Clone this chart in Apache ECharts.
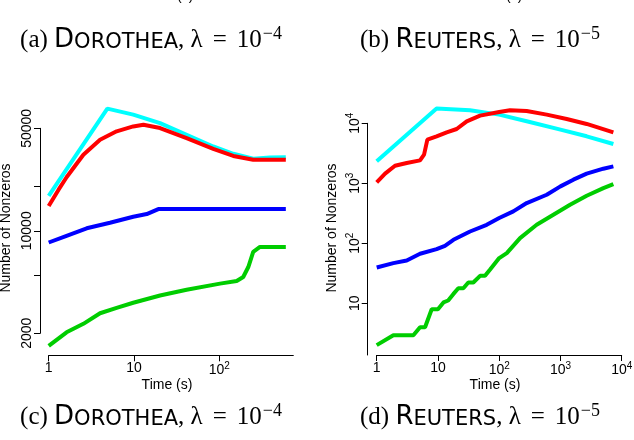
<!DOCTYPE html>
<html>
<head>
<meta charset="utf-8">
<script src="https://cdn.jsdelivr.net/npm/echarts@6/dist/echarts.min.js"></script>
<style>
  html, body { margin: 0; padding: 0; background: #fff; }
  #main { width: 634px; height: 440px; }
</style>
</head>
<body>
<div id="main"></div>
<script>
// Dorothea (left), lambda = 1e-4
const dorCyanT = [1, 4.87, 9.8, 20.2, 41.4, 85, 146, 250, 392, 603];
const dorCyan = [17300, 68100, 62000, 54300, 45200, 37600, 33500, 31000, 31600, 31800];
const dorRedT = [1, 1.3, 1.62, 2.55, 4.0, 6.26, 9.8, 12.9, 20.2, 41.4, 85, 146, 250, 603];
const dorRed = [14760, 19000, 23200, 33000, 41800, 47700, 51500, 52900, 50200, 42800, 36200, 32400, 30500, 30500];
const dorBlueT = [1, 1.62, 2.79, 5.23, 9.8, 14.1, 19.3, 603];
const dorBlue = [8320, 9250, 10400, 11350, 12470, 13000, 14070, 14070];
const dorGreenT = [1, 1.62, 2.55, 4.0, 6.26, 9.8, 20.2, 41.4, 102, 160, 191, 219, 250, 300, 603];
const dorGreen = [1640, 2030, 2320, 2740, 2980, 3230, 3620, 3960, 4360, 4540, 4840, 5660, 7180, 7760, 7760];

// Reuters (right), lambda = 1e-5
const rtrCyanT = [1, 9.5, 33.4, 100, 281, 1000, 2680, 7310];
const rtrCyan = [2320, 17600, 16500, 13960, 10800, 7830, 6070, 4520];
const rtrRedT = [1, 1.37, 1.99, 3.09, 5.1, 5.93, 6.72, 9.5, 13.9, 20.2, 29.5, 48.7, 100, 150, 281, 597, 1265, 2680, 7310];
const rtrRed = [1035, 1445, 1960, 2180, 2410, 3000, 5340, 6060, 7080, 8040, 10800, 13430, 15450, 16500, 16070, 13960, 11800, 9750, 7080];
const rtrBlueT = [1, 1.87, 3.09, 5.1, 9.5, 13, 17.9, 33.4, 62.5, 100, 170, 281, 597, 1000, 1625, 2680, 5020, 7310];
const rtrBlue = [39.4, 46.6, 51.6, 66.7, 79.8, 90.7, 114, 157, 203, 263, 340, 468, 644, 888, 1148, 1445, 1750, 1915];
const rtrGreenT = [1, 1.87, 3.97, 5.1, 6.16, 7.9, 10, 12.3, 14.7, 17.9, 21.5, 26, 31.3, 37.8, 48.7, 58.7, 70.5, 100, 133, 219, 409, 766, 1435, 2680, 5020, 7310];
const rtrGreen = [2, 2.92, 2.92, 3.98, 3.98, 7.94, 7.94, 10.3, 11.1, 14.3, 17.8, 17.8, 22.2, 22.2, 28.6, 28.6, 36.1, 56.5, 68.4, 122, 203, 298, 438, 620, 832, 970];

// tick values
const dorXTicks = [1, 10, 100];
const dorYTicks = [2000, 5000, 10000, 20000, 50000];
const dorYLabels = [2000, 10000, 50000];
const rtrXTicks = [1, 10, 100, 1000, 10000];
const rtrYTicks = [10, 100, 1000, 10000];

const colors = { cyan: "#00ffff", red: "#ff0000", blue: "#0000ff", green: "#00cd00" };

let dom = document.getElementById("main");
let myChart = echarts.init(dom, null, { renderer: "canvas" });

function pairs(t, n) {
    return t.map((v, i) => [v, n[i]]);
}

// 1, 10, 10^2 ...
function powLabel(v) {
    let e = Math.round(Math.log10(v));
    if (e <= 1) return "{b|" + Math.round(v) + "}";
    return "{b|10}{s|" + e + "}";
}

const tickRich = {
    b: { fontSize: 14, fontFamily: "Liberation Sans", color: "#000", verticalAlign: "bottom" },
    s: { fontSize: 10, fontFamily: "Liberation Sans", color: "#000", verticalAlign: "bottom", padding: [0, 0, 6, 0] },
};

const axisLine = { show: true, lineStyle: { color: "#000", width: 1 } };

function lineSeries(x, y, t, n, color) {
    return {
        type: "line",
        xAxisIndex: x,
        yAxisIndex: y,
        data: pairs(t, n),
        showSymbol: false,
        clip: false,
        lineStyle: { color: color, width: 4 },
        itemStyle: { color: color },
        silent: true,
    };
}

const capRich = {
    p: { fontFamily: "Liberation Serif", fontSize: 25, color: "#000", verticalAlign: "bottom" },
    eq: { fontFamily: "Liberation Serif", fontSize: 25, color: "#000", verticalAlign: "bottom", padding: [0, 10, 0, 10] },
    d: { fontFamily: "DejaVu Sans", fontSize: 26, color: "#000", verticalAlign: "bottom" },
    sc: { fontFamily: "DejaVu Sans", fontSize: 21, color: "#000", verticalAlign: "bottom" },
    sup: { fontFamily: "Liberation Serif", fontSize: 18, color: "#000", verticalAlign: "bottom", padding: [0, 0, 10, 1] },
};

function caption(x, y, text) {
    return {
        type: "text",
        x: x,
        y: y,
        style: { text: text, rich: capRich, align: "center", verticalAlign: "middle" },
    };
}

function plainText(x, y, text, rotate) {
    return {
        type: "text",
        x: x,
        y: y,
        rotation: rotate ? Math.PI / 2 : 0,
        style: {
            text: text,
            fontFamily: "Liberation Sans",
            fontSize: 14,
            fill: "#000",
            align: "center",
            verticalAlign: "middle",
        },
    };
}

let option = {
    animation: false,
    backgroundColor: "#fff",
    grid: [
        { left: 48.7, right: 634 - 293.3, top: 128.3, bottom: 440 - 333.3, outerBoundsMode: "none" },
        { left: 376.7, right: 634 - 621.7, top: 123.3, bottom: 440 - 355, outerBoundsMode: "none" },
    ],
    xAxis: [
        {
            type: "log", gridIndex: 0, min: 1, max: 738, offset: 22,
            axisLine: axisLine,
            axisTick: { show: true, length: 6, lineStyle: { color: "#000" }, customValues: dorXTicks },
            axisLabel: { customValues: dorXTicks, formatter: powLabel, rich: tickRich, margin: 6 },
            splitLine: { show: false }, minorTick: { show: false },
        },
        {
            type: "log", gridIndex: 1, min: 1, max: 10000, offset: 0,
            axisLine: axisLine,
            axisTick: { show: true, length: 6, lineStyle: { color: "#000" }, customValues: rtrXTicks },
            axisLabel: { customValues: rtrXTicks, formatter: powLabel, rich: tickRich, margin: 6 },
            splitLine: { show: false }, minorTick: { show: false },
        },
    ],
    yAxis: [
        {
            type: "log", gridIndex: 0, min: 1999, max: 50010, offset: 8.7,
            axisLine: axisLine,
            axisTick: { show: true, length: 6, lineStyle: { color: "#000" }, customValues: dorYTicks },
            axisLabel: {
                customValues: dorYLabels, rotate: 90, margin: 6,
                formatter: (v) => "{b|" + Math.round(v) + "}", rich: tickRich,
            },
            splitLine: { show: false }, minorTick: { show: false },
        },
        {
            type: "log", gridIndex: 1, min: 1.37, max: 10000, offset: 9,
            axisLine: axisLine,
            axisTick: { show: true, length: 6, lineStyle: { color: "#000" }, customValues: rtrYTicks },
            axisLabel: { customValues: rtrYTicks, rotate: 90, margin: 6, formatter: powLabel, rich: tickRich },
            splitLine: { show: false }, minorTick: { show: false },
        },
    ],
    series: [
        lineSeries(0, 0, dorCyanT, dorCyan, colors.cyan),
        lineSeries(0, 0, dorRedT, dorRed, colors.red),
        lineSeries(0, 0, dorBlueT, dorBlue, colors.blue),
        lineSeries(0, 0, dorGreenT, dorGreen, colors.green),
        lineSeries(1, 1, rtrCyanT, rtrCyan, colors.cyan),
        lineSeries(1, 1, rtrRedT, rtrRed, colors.red),
        lineSeries(1, 1, rtrBlueT, rtrBlue, colors.blue),
        lineSeries(1, 1, rtrGreenT, rtrGreen, colors.green),
    ],
    graphic: [
        // cut-off axis titles of the row above
        plainText(168, -4, "Time (s)"),
        plainText(497, -4, "Time (s)"),
        caption(151, 39, "{p|(a) }{d|D}{sc|OROTHEA}{p|, λ}{eq|=}{p|10}{sup|−4}"),
        caption(480, 39, "{p|(b) }{d|R}{sc|EUTERS}{p|, λ}{eq|=}{p|10}{sup|−5}"),
        plainText(6, 228, "Number of Nonzeros", true),
        plainText(332, 228, "Number of Nonzeros", true),
        plainText(167, 385, "Time (s)"),
        plainText(495, 385, "Time (s)"),
        caption(151, 416, "{p|(c) }{d|D}{sc|OROTHEA}{p|, λ}{eq|=}{p|10}{sup|−4}"),
        caption(480, 416, "{p|(d) }{d|R}{sc|EUTERS}{p|, λ}{eq|=}{p|10}{sup|−5}"),
    ],
};

if (option && typeof option === "object") {
    myChart.setOption(option);
}

window.addEventListener("resize", myChart.resize);
</script>
</body>
</html>
